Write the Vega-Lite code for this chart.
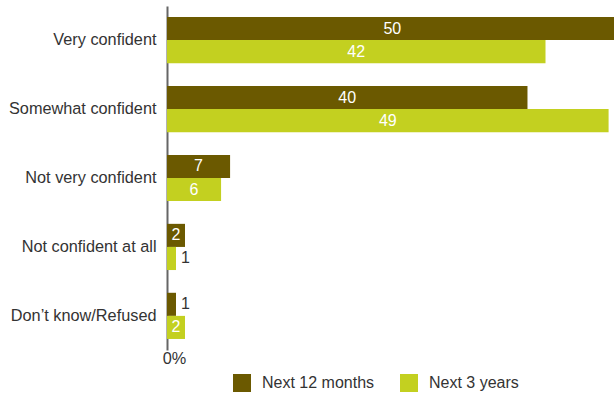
{
  "$schema": "https://vega.github.io/schema/vega-lite/v6.json",
  "width": 447,
  "height": 344,
  "autosize": {"type": "none"},
  "padding": {"left": 167, "top": 6, "right": 0, "bottom": 44},
  "config": {
    "view": {"stroke": null},
    "font": "Liberation Sans",
    "axis": {"labelFont": "Liberation Sans", "labelColor": "#333333", "labelFontSize": 16.3},
    "legend": {"labelFont": "Liberation Sans", "labelColor": "#333333", "labelFontSize": 16}
  },
  "data": {
    "values": [
      {"category": "Very confident", "series": "Next 12 months", "value": 50},
      {"category": "Very confident", "series": "Next 3 years", "value": 42},
      {"category": "Somewhat confident", "series": "Next 12 months", "value": 40},
      {"category": "Somewhat confident", "series": "Next 3 years", "value": 49},
      {"category": "Not very confident", "series": "Next 12 months", "value": 7},
      {"category": "Not very confident", "series": "Next 3 years", "value": 6},
      {"category": "Not confident at all", "series": "Next 12 months", "value": 2},
      {"category": "Not confident at all", "series": "Next 3 years", "value": 1},
      {"category": "Don’t know/Refused", "series": "Next 12 months", "value": 1},
      {"category": "Don’t know/Refused", "series": "Next 3 years", "value": 2}
    ]
  },
  "encoding": {
    "y": {
      "field": "category",
      "type": "nominal",
      "sort": ["Very confident", "Somewhat confident", "Not very confident", "Not confident at all", "Don’t know/Refused"],
      "scale": {"paddingInner": 0.33, "paddingOuter": 0.16},
      "axis": {"title": null, "ticks": false, "labelPadding": 11, "domainColor": "#666666", "domainWidth": 2}
    },
    "yOffset": {"field": "series", "type": "nominal", "scale": {"paddingInner": 0, "paddingOuter": 0}}
  },
  "layer": [
    {
      "mark": {"type": "bar"},
      "encoding": {
        "x": {
          "field": "value",
          "type": "quantitative",
          "scale": {"domain": [0, 49.6], "nice": false},
          "axis": {"title": null, "values": [0], "labelExpr": "'0%'", "domain": false, "ticks": false, "grid": false, "labelFlush": false, "labelAlign": "center", "labelOffset": 7, "labelPadding": 0}
        },
        "color": {
          "field": "series",
          "type": "nominal",
          "scale": {"domain": ["Next 12 months", "Next 3 years"], "range": ["#6b5900", "#c3d020"]},
          "legend": {
            "title": null,
            "orient": "none",
            "direction": "horizontal",
            "legendX": 66,
            "legendY": 368,
            "symbolType": "square",
            "symbolSize": 324,
            "symbolStrokeWidth": 0,
            "symbolOpacity": 1,
            "labelOffset": 11,
            "columnPadding": 25
          }
        }
      }
    },
    {
      "transform": [{"filter": "datum.value >= 2"}, {"calculate": "datum.value / 2", "as": "labelPos"}],
      "mark": {"type": "text", "color": "white", "fontSize": 16, "align": "center", "baseline": "middle"},
      "encoding": {
        "x": {"field": "labelPos", "type": "quantitative"},
        "text": {"field": "value", "type": "quantitative"}
      }
    },
    {
      "transform": [{"filter": "datum.value < 2"}],
      "mark": {"type": "text", "color": "#333333", "fontSize": 16, "align": "left", "baseline": "middle", "dx": 5},
      "encoding": {
        "x": {"field": "value", "type": "quantitative"},
        "text": {"field": "value", "type": "quantitative"}
      }
    }
  ]
}
